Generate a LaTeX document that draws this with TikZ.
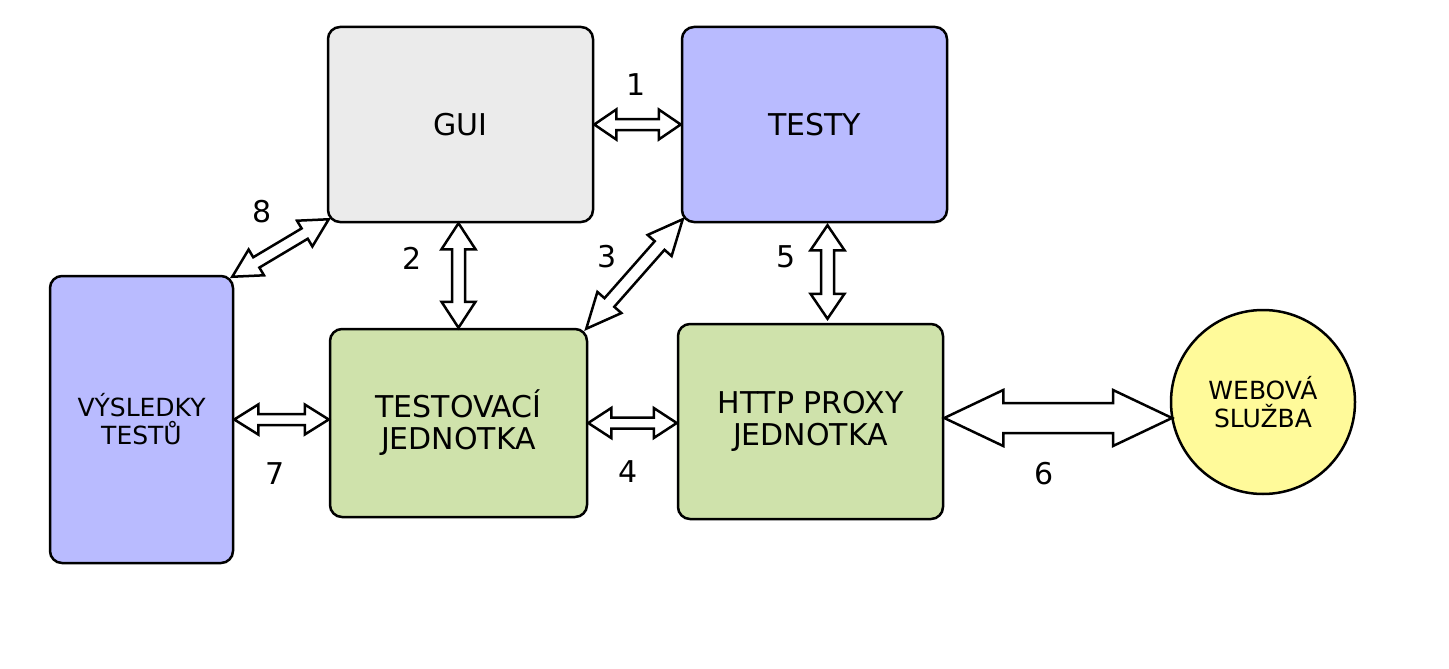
\documentclass[tikz,border=0pt]{standalone}
\usepackage{fontspec}
\setmainfont{DejaVu Sans}
\usetikzlibrary{calc}
\definecolor{cgray}{HTML}{EBEBEB}
\definecolor{clav}{HTML}{B9BBFF}
\definecolor{cgreen}{HTML}{CFE2AB}
\definecolor{cyel}{HTML}{FFFA9A}
\tikzset{
  box/.style={draw=black, line width=2.5pt, rounded corners=12pt, align=center, inner sep=0pt, font=\fontsize{30}{32}\selectfont},
  smallbox/.style={font=\fontsize{25}{28}\selectfont},
  arrowsty/.style={draw=black, fill=white, line width=2.5pt, line join=miter},
  lab/.style={font=\fontsize{30}{32}\selectfont, inner sep=0pt}
}
\newcommand\dblarrow[5]{%
  \path (#1) coordinate (s) (#2) coordinate (e);
  \path ($(s)!#3!(e)$) coordinate (hs) ($(e)!#3!(s)$) coordinate (he);
  \draw[arrowsty] (s) -- ($(hs)!#4!90:(e)$) -- ($(hs)!#5!90:(e)$) -- ($(he)!#5!-90:(s)$) -- ($(he)!#4!-90:(s)$) -- (e)
    -- ($(he)!#4!90:(s)$) -- ($(he)!#5!90:(s)$) -- ($(hs)!#5!-90:(e)$) -- ($(hs)!#4!-90:(e)$) -- cycle;
}
\begin{document}
\begin{tikzpicture}[x=1pt,y=-1pt]
\useasboundingbox (0,0) rectangle (1449,669);
\node[box, fill=cgray, minimum width=265pt, minimum height=195pt] (gui) at (460.5,124.5) {GUI};
\node[box, fill=clav, minimum width=265pt, minimum height=195pt] (testy) at (814.5,124.5) {TESTY};
\node[box, smallbox, fill=clav, minimum width=183pt, minimum height=287pt] (vys) at (141.5,419.5) {VÝSLEDKY\\TESTŮ};
\node[box, fill=cgreen, minimum width=257pt, minimum height=188pt] (tj) at (458.5,423) {TESTOVACÍ\\JEDNOTKA};
\node[box, fill=cgreen, minimum width=265pt, minimum height=195pt] (http) at (810.5,421.5) {HTTP PROXY\\JEDNOTKA};
\node[draw=black, line width=2.5pt, fill=cyel, circle, minimum size=184pt, inner sep=0pt, align=center, smallbox] (web) at (1263,402) {WEBOVÁ\\SLUŽBA};

% arrows
\dblarrow{gui.east}{testy.west}{22pt}{15pt}{5.5pt}
\dblarrow{gui.south -| tj.north}{tj.north}{26pt}{17pt}{6.5pt}
\coordinate (a3s) at ($(tj.north east)+(-2,1)$);
\coordinate (a3e) at ($(testy.south west)+(2,-4)$);
\dblarrow{a3s}{a3e}{35pt}{16pt}{6.5pt}
\coordinate (a5s) at ($(testy.south)+(13,2)$);
\coordinate (a5e) at ($(http.north)+(17,-4)$);
\dblarrow{a5s}{a5e}{25pt}{17pt}{6.5pt}
\dblarrow{tj.east}{tj.east -| http.west}{23pt}{15pt}{5.5pt}
\dblarrow{vys.east}{vys.east -| tj.west}{24pt}{15pt}{5.5pt}
\coordinate (a6s) at ($(http.east)+(0,-3.5)$);
\coordinate (a6e) at ($(web.center)+(-91,16)$);
\dblarrow{a6s}{a6e}{59pt}{28pt}{15pt}
\coordinate (a8s) at ($(vys.north east)+(-2,2)$);
\coordinate (a8e) at ($(gui.south west)+(2,-4)$);
\dblarrow{a8s}{a8e}{28pt}{15pt}{6pt}

% labels
\node[lab] (l1) at (636,85) {1};
\node[lab] (l2) at (412,258) {2};
\node[lab] (l3) at (607,257) {3};
\node[lab] (l5) at (786,257) {5};
\node[lab] (l8) at (262,212) {8};
\node[lab] (l7) at (275,474) {7};
\node[lab] (l4) at (628,472) {4};
\node[lab] (l6) at (1044,474) {6};
\end{tikzpicture}
\end{document}
